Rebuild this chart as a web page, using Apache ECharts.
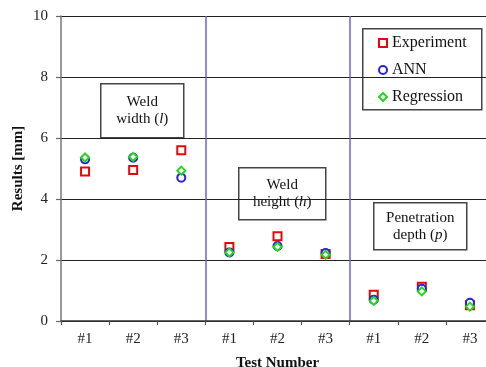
<!DOCTYPE html>
<html>
<head>
<meta charset="utf-8">
<script src="https://cdn.jsdelivr.net/npm/echarts@6/dist/echarts.min.js"></script>
<style>
  html, body { margin: 0; padding: 0; background: #fff; }
  #chart { width: 486px; height: 367px; }
</style>
</head>
<body>
<div id="chart"></div>
<script>
// Weld geometry groups and the three test runs within each
const groups = ['width', 'height', 'depth'];
const tests = ['#1', '#2', '#3'];

// Measured and predicted results [mm], in the order width #1..#3, height #1..#3, depth #1..#3
const experiment = [4.9, 4.95, 5.6, 2.43, 2.78, 2.2, 0.86, 1.12, 0.52];
const ann = [5.3, 5.35, 4.7, 2.25, 2.46, 2.23, 0.7, 1.06, 0.6];
const regression = [5.36, 5.38, 4.93, 2.25, 2.43, 2.17, 0.66, 0.97, 0.47];

const yMin = 0, yMax = 10, yStep = 2;

const categories = groups.flatMap(g => tests.map(t => g + ' ' + t));
const toPoints = arr => arr.map((v, i) => [i, v]);

const serif = '"Liberation Serif", "Times New Roman", serif';
const boxStroke = '#444';

function noteBox(x, y, w, h, lines) {
  return {
    type: 'group',
    left: x, top: y,
    children: [
      { type: 'rect', shape: { x: 0, y: 0, width: w, height: h },
        style: { fill: '#fff', stroke: boxStroke, lineWidth: 1.5 } },
      { type: 'text', x: w / 2, y: h / 2,
        style: {
          text: lines,
          align: 'center', verticalAlign: 'middle',
          fontFamily: serif, fontSize: 15, lineHeight: 17, fill: '#111',
          rich: {
            n: { fontFamily: serif, fontSize: 15, lineHeight: 17, fill: '#111' },
            i: { fontFamily: serif, fontSize: 15, lineHeight: 17, fontStyle: 'italic', fill: '#111' }
          }
        } }
    ]
  };
}

const chart = echarts.init(document.getElementById('chart'), null, { renderer: 'canvas' });

chart.setOption({
  animation: false,
  backgroundColor: '#fff',
  grid: { left: 61, top: 16, right: -8, bottom: 46, containLabel: false, outerBoundsMode: 'none' },
  xAxis: {
    type: 'category',
    data: categories,
    boundaryGap: true,
    name: 'Test Number',
    nameLocation: 'middle',
    nameGap: 35,
    nameTextStyle: { fontFamily: serif, fontSize: 15, fontWeight: 'bold', color: '#111' },
    axisLine: { lineStyle: { color: '#333', width: 1.5 } },
    axisTick: { show: true, length: 4, inside: false, lineStyle: { color: '#555', width: 1.2 } },
    axisLabel: {
      margin: 11, fontFamily: serif, fontSize: 15, color: '#222',
      formatter: v => v.split(' ')[1]
    },
    splitLine: {
      show: true,
      interval: i => i === 3 || i === 6,
      lineStyle: { color: '#6b62e0', width: 1.5 }
    }
  },
  yAxis: {
    type: 'value',
    min: yMin, max: yMax, interval: yStep,
    name: 'Results [mm]',
    nameLocation: 'middle',
    nameGap: 35,
    nameMoveOverlap: false,
    nameTextStyle: { fontFamily: serif, fontSize: 15, fontWeight: 'bold', color: '#111' },
    axisLine: { show: true, lineStyle: { color: '#777', width: 1.5 } },
    axisTick: { show: true, length: 5, lineStyle: { color: '#666', width: 1.2 } },
    axisLabel: { margin: 13, fontFamily: serif, fontSize: 15, color: '#222' },
    splitLine: { show: true, lineStyle: { color: '#222', width: 1.2 } }
  },
  legend: {
    orient: 'vertical',
    left: 373, top: 30,
    itemWidth: 8, itemHeight: 8, itemGap: 11,
    textStyle: { fontFamily: serif, fontSize: 16, color: '#111' },
    data: ['Experiment', 'ANN', 'Regression']
  },
  graphic: [
    { type: 'rect', left: 362, top: 28, z: 0,
      shape: { width: 119, height: 81 },
      style: { fill: '#fff', stroke: boxStroke, lineWidth: 1.5 } },
    noteBox(100, 83, 83, 54, '{n|Weld}\n{n|width (}{i|l}{n|)}'),
    noteBox(238, 167, 87, 52, '{n|Weld}\n{n|height (}{i|h}{n|)}'),
    noteBox(373, 202, 93, 47, '{n|Penetration}\n{n|depth (}{i|p}{n|)}')
  ],
  series: [
    { name: 'Experiment', type: 'scatter', symbol: 'rect', symbolSize: 8, z: 3,
      itemStyle: { color: '#fff', borderColor: '#e4080a', borderWidth: 2, opacity: 1 },
      data: toPoints(experiment) },
    { name: 'ANN', type: 'scatter', symbol: 'circle', symbolSize: 8, z: 4,
      itemStyle: { color: '#fff', borderColor: '#2a22d8', borderWidth: 2, opacity: 1 },
      data: toPoints(ann) },
    { name: 'Regression', type: 'scatter', symbol: 'diamond', symbolSize: 8, z: 5,
      itemStyle: { color: '#fff', borderColor: '#26d61e', borderWidth: 2, opacity: 1 },
      data: toPoints(regression) }
  ]
});
</script>
</body>
</html>
